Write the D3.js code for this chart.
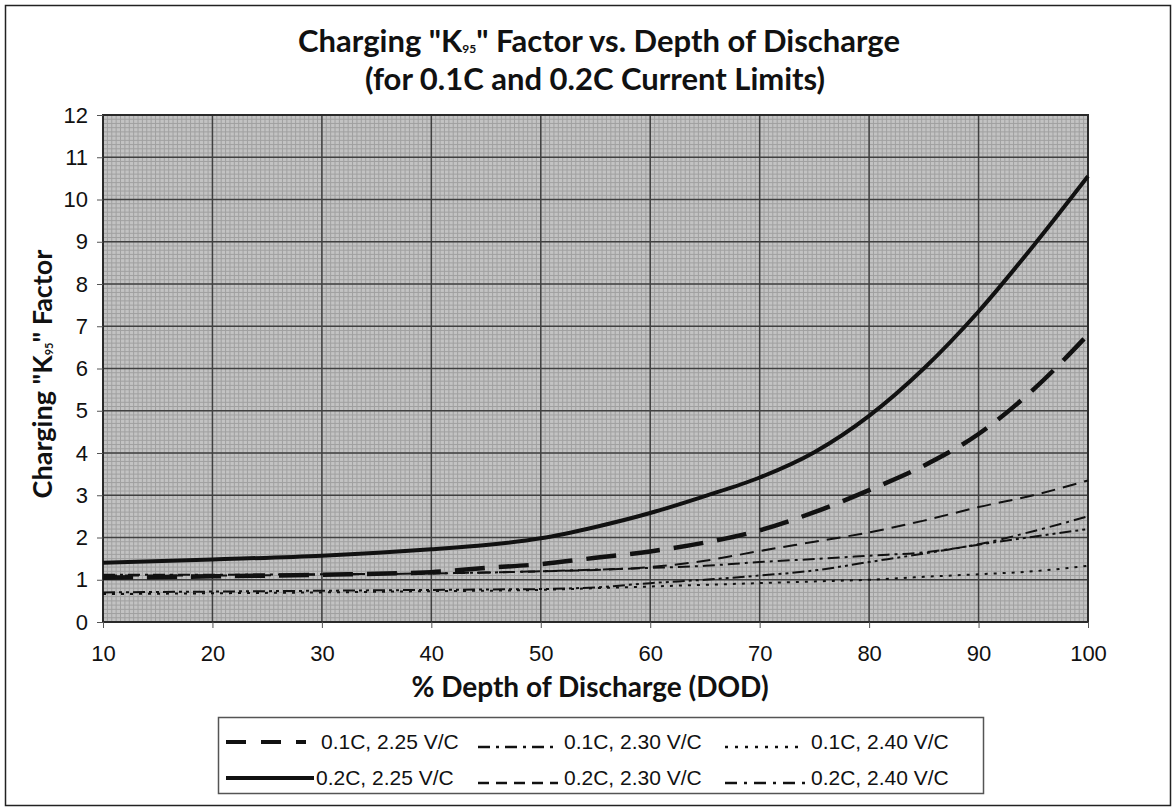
<!DOCTYPE html>
<html lang="en">
<head>
<meta charset="UTF-8">
<title>Charging K95 Factor vs. Depth of Discharge</title>
<script src="https://cdn.jsdelivr.net/npm/d3@7/dist/d3.min.js"></script>
<style>
  body { margin: 0; background: #fff; }
  text { fill: #111; }
</style>
</head>
<body>
<div class="chart"></div>
<script>
  // % depth of discharge, shared by all curves
  const dod = [10, 20, 30, 40, 45, 50, 55, 60, 65, 70, 75, 80, 85, 90, 95, 100]
  const c01v225 = [1.05, 1.08, 1.12, 1.18, 1.28, 1.37, 1.52, 1.67, 1.88, 2.17, 2.6, 3.12, 3.7, 4.45, 5.5, 6.8]
  const c01v230 = [1.12, 1.12, 1.13, 1.15, 1.17, 1.2, 1.24, 1.28, 1.33, 1.42, 1.49, 1.57, 1.65, 1.84, 2.15, 2.5]
  const c01v240 = [0.66, 0.68, 0.7, 0.73, 0.74, 0.76, 0.8, 0.84, 0.88, 0.92, 0.96, 1.0, 1.07, 1.13, 1.2, 1.33]
  const c02v225 = [1.4, 1.48, 1.57, 1.72, 1.82, 1.98, 2.25, 2.58, 2.98, 3.42, 4.02, 4.88, 6.0, 7.35, 8.9, 10.55]
  const c02v230 = [1.1, 1.1, 1.12, 1.15, 1.17, 1.2, 1.23, 1.3, 1.45, 1.68, 1.9, 2.12, 2.4, 2.72, 3.0, 3.35]
  const c02v240 = [0.7, 0.72, 0.74, 0.76, 0.77, 0.78, 0.82, 0.92, 1.0, 1.1, 1.22, 1.42, 1.62, 1.83, 2.02, 2.2]

  const xTicks = [10, 20, 30, 40, 50, 60, 70, 80, 90, 100]
  const yTicks = [0, 1, 2, 3, 4, 5, 6, 7, 8, 9, 10, 11, 12]

  const series = [
    { name: '0.1C, 2.25 V/C', values: c01v225, width: 4.5, dash: '30,14', sample: '20,15' },
    { name: '0.1C, 2.30 V/C', values: c01v230, width: 2, dash: '12,5,3,5', sample: '12,6,3,6' },
    { name: '0.1C, 2.40 V/C', values: c01v240, width: 2, dash: '3,6', sample: '3,7' },
    { name: '0.2C, 2.25 V/C', values: c02v225, width: 4, dash: null, sample: null },
    { name: '0.2C, 2.30 V/C', values: c02v230, width: 2, dash: '14,8', sample: '11,7' },
    { name: '0.2C, 2.40 V/C', values: c02v240, width: 2, dash: '12,4,3,4,3,4', sample: '12,7,3,7' }
  ]

  const width = 1176
  const height = 811
  const plot = { left: 103, right: 1088, top: 115, bottom: 622 }

  const svg = d3.select('.chart')
    .append('svg')
    .attr('width', width)
    .attr('height', height)

  // outer frame
  svg.append('rect')
    .attr('x', 5.5).attr('y', 5.5)
    .attr('width', 1165).attr('height', 800)
    .attr('fill', '#fff')
    .attr('stroke', '#222')
    .attr('stroke-width', 1.5)

  const xScale = d3.scaleLinear().domain([10, 100]).range([plot.left, plot.right])
  const yScale = d3.scaleLinear().domain([0, 12]).range([plot.bottom, plot.top])

  // plot background and fine grid
  svg.append('rect')
    .attr('x', plot.left).attr('y', plot.top)
    .attr('width', plot.right - plot.left).attr('height', plot.bottom - plot.top)
    .attr('fill', '#c3c3c3')

  const minor = svg.append('g').attr('stroke', '#a0a0a0').attr('stroke-width', 1)
  minor.selectAll('.mx')
    .data(d3.range(10, 100.01, 0.4))
    .enter().append('line')
    .attr('x1', d => xScale(d)).attr('x2', d => xScale(d))
    .attr('y1', plot.top).attr('y2', plot.bottom)
  minor.selectAll('.my')
    .data(d3.range(0, 12.01, 0.1))
    .enter().append('line')
    .attr('y1', d => yScale(d)).attr('y2', d => yScale(d))
    .attr('x1', plot.left).attr('x2', plot.right)

  // major grid
  const major = svg.append('g').attr('stroke', '#404040').attr('stroke-width', 1.5)
  major.selectAll('.gx')
    .data(xTicks)
    .enter().append('line')
    .attr('x1', d => xScale(d)).attr('x2', d => xScale(d))
    .attr('y1', plot.top).attr('y2', plot.bottom)
  major.selectAll('.gy')
    .data(yTicks)
    .enter().append('line')
    .attr('y1', d => yScale(d)).attr('y2', d => yScale(d))
    .attr('x1', plot.left).attr('x2', plot.right)

  svg.append('rect')
    .attr('x', plot.left).attr('y', plot.top)
    .attr('width', plot.right - plot.left).attr('height', plot.bottom - plot.top)
    .attr('fill', 'none')
    .attr('stroke', '#2a2a2a')
    .attr('stroke-width', 2)

  // axes
  const xAxis = d3.axisBottom(xScale).tickValues(xTicks).tickSize(6).tickPadding(17)
  const gX = svg.append('g')
    .attr('transform', `translate(0, ${plot.bottom})`)
    .call(xAxis)
  const yAxis = d3.axisLeft(yScale).tickValues(yTicks).tickSize(6).tickPadding(9)
  const gY = svg.append('g')
    .attr('transform', `translate(${plot.left}, 0)`)
    .call(yAxis)
  for (const g of [gX, gY]) {
    g.select('.domain').remove()
    g.selectAll('line').attr('stroke', '#555')
    g.selectAll('text')
      .attr('font-family', 'Liberation Sans, Arial, sans-serif')
      .attr('font-size', 22)
      .attr('fill', '#222')
  }

  // curves
  const line = d3.line()
    .x((d, i) => xScale(dod[i]))
    .y(d => yScale(d))
    .curve(d3.curveMonotoneX)

  svg.append('g')
    .selectAll('path')
    .data(series)
    .enter().append('path')
    .attr('d', d => line(d.values))
    .attr('fill', 'none')
    .attr('stroke', '#111')
    .attr('stroke-width', d => d.width)
    .attr('stroke-dasharray', d => d.dash)

  // titles
  const title = svg.append('g')
    .attr('font-family', 'Lato, sans-serif')
    .attr('font-weight', 'bold')
    .attr('font-size', 31)
    .attr('text-anchor', 'middle')
  const t1 = title.append('text').attr('x', 599).attr('y', 52)
  t1.append('tspan').text('Charging "K')
  t1.append('tspan').attr('font-size', 12).attr('dy', 1).text('95')
  t1.append('tspan').attr('dy', -1).text('" Factor vs. Depth of Discharge')
  title.append('text').attr('x', 595).attr('y', 90)
    .text('(for 0.1C and 0.2C Current Limits)')

  const yLab = svg.append('text')
    .attr('transform', 'translate(52, 374) rotate(-90)')
    .attr('font-family', 'Lato, sans-serif')
    .attr('font-weight', 'bold')
    .attr('font-size', 27)
    .attr('text-anchor', 'middle')
  yLab.append('tspan').text('Charging "K')
  yLab.append('tspan').attr('font-size', 11).attr('dy', 1).text('95')
  yLab.append('tspan').attr('dy', -1).text('" Factor')

  svg.append('text')
    .attr('x', 590).attr('y', 697)
    .attr('font-family', 'Lato, sans-serif')
    .attr('font-weight', 'bold')
    .attr('font-size', 28)
    .attr('text-anchor', 'middle')
    .text('% Depth of Discharge (DOD)')

  // legend
  const legend = svg.append('g')
  legend.append('rect')
    .attr('x', 218.5).attr('y', 717.5)
    .attr('width', 765).attr('height', 76)
    .attr('fill', '#fff')
    .attr('stroke', '#555')
    .attr('stroke-width', 1.5)

  const colX = [226, 478, 725]
  const rowY = [740, 776]
  const item = legend.selectAll('.item')
    .data(series)
    .enter().append('g')
    .attr('transform', (d, i) => `translate(${colX[i % 3]}, ${rowY[Math.floor(i / 3)]})`)
  item.append('line')
    .attr('x1', 0).attr('x2', (d, i) => i === 3 ? 88 : 80)
    .attr('y1', d => d.width > 2.5 ? 2 : 7)
    .attr('y2', d => d.width > 2.5 ? 2 : 7)
    .attr('stroke', '#111')
    .attr('stroke-width', d => d.width > 2.5 ? 4 : 2.5)
    .attr('stroke-dasharray', d => d.sample)
  item.append('text')
    .attr('x', (d, i) => i === 3 ? 90 : (i % 3 === 0 ? 95 : 86))
    .attr('y', 9)
    .attr('font-family', 'Liberation Sans, Arial, sans-serif')
    .attr('font-size', 21)
    .text(d => d.name)
</script>
</body>
</html>
